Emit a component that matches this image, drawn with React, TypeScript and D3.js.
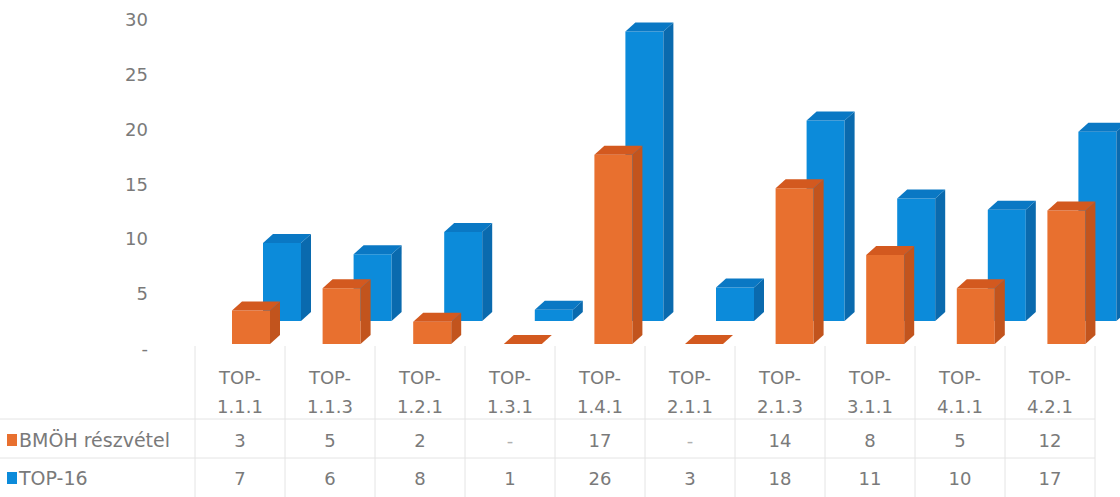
import * as d3 from "d3";

// chart data
const categories = [
  "TOP-1.1.1", "TOP-1.1.3", "TOP-1.2.1", "TOP-1.3.1", "TOP-1.4.1",
  "TOP-2.1.1", "TOP-2.1.3", "TOP-3.1.1", "TOP-4.1.1", "TOP-4.2.1",
];
const bmohValues = [3, 5, 2, 0, 17, 0, 14, 8, 5, 12];
const top16Values = [7, 6, 8, 1, 26, 3, 18, 11, 10, 17];
const seriesNames = ["BMÖH részvétel", "TOP-16"];
const yTicks = [0, 5, 10, 15, 20, 25, 30];

const W = 1120;
const H = 497;
const FONT = "'DejaVu Sans', 'Open Sans', sans-serif";
const TEXT = "#7a7a7a";

const orange = { front: "#E8702F", side: "#C2541D", top: "#D3591F" };
const blue = { front: "#0C8BDA", side: "#0A6AAE", top: "#0A78C4" };

// 3d-ish geometry
const DEPTH_X = 10;
const DEPTH_Y = -9;
const BAR_W = 38;
const FRONT_BASE = 344;
const BACK_BASE = 321;
const BACK_SHIFT = 31;

function Box({ x, base, h, c }: { x: number; base: number; h: number; c: typeof orange }) {
  const top = base - h;
  const front = `M${x},${base}L${x + BAR_W},${base}L${x + BAR_W},${top}L${x},${top}Z`;
  const side = `M${x + BAR_W},${base}L${x + BAR_W + DEPTH_X},${base + DEPTH_Y}L${x + BAR_W + DEPTH_X},${top + DEPTH_Y}L${x + BAR_W},${top}Z`;
  const lid = `M${x},${top}L${x + BAR_W},${top}L${x + BAR_W + DEPTH_X},${top + DEPTH_Y}L${x + DEPTH_X},${top + DEPTH_Y}Z`;
  return (
    <g>
      <path d={front} fill={c.front} />
      <path d={side} fill={c.side} />
      <path d={lid} fill={c.top} />
    </g>
  );
}

export default function App() {
  const yLabel = d3.scaleLinear().domain([0, 30]).range([349, 19.5]);
  const yBar = d3.scaleLinear().domain([0, 30]).range([0, 334]);

  // table columns
  const xCol = d3.scaleBand<string>().domain(categories).range([195, 1095]);
  // bar positions (slight perspective drift vs. the table)
  const xBar = d3.scaleBand<string>().domain(categories).range([232, 232 + 10 * 90.6]);

  const rowY = [447, 485];
  const colors = [orange.front, blue.front];
  const rows = [bmohValues, top16Values];

  return (
    <div style={{ position: "absolute", left: 0, top: 0 }}>
      <svg width={W} height={H} style={{ display: "block", background: "#fff" }}>
        {/* y axis labels */}
        {yTicks.map((t) => (
          <text
            key={t}
            x={148}
            y={yLabel(t)}
            dy="0.35em"
            textAnchor="end"
            fontFamily={FONT}
            fontSize={18}
            fill={TEXT}
          >
            {t === 0 ? "-" : t}
          </text>
        ))}

        {/* table grid */}
        <g stroke="#e4e4e4" strokeWidth={1}>
          {categories.map((c) => (
            <line key={c} x1={xCol(c)!} x2={xCol(c)!} y1={346} y2={H} />
          ))}
          <line x1={1095} x2={1095} y1={346} y2={H} />
          <line x1={0} x2={1095} y1={419} y2={419} />
          <line x1={0} x2={1095} y1={458} y2={458} />
        </g>

        {/* back row: TOP-16 */}
        {categories.map((c, i) => (
          <Box key={"b" + c} x={xBar(c)! + BACK_SHIFT} base={BACK_BASE} h={yBar(top16Values[i])} c={blue} />
        ))}
        {/* front row: BMÖH */}
        {categories.map((c, i) => (
          <Box key={"o" + c} x={xBar(c)!} base={FRONT_BASE} h={yBar(bmohValues[i])} c={orange} />
        ))}

        {/* category headers */}
        {categories.map((c) => {
          const cx = xCol(c)! + xCol.bandwidth() / 2;
          const [a, b] = [c.slice(0, 4), c.slice(4)];
          return (
            <text key={"h" + c} x={cx} textAnchor="middle" fontFamily={FONT} fontSize={18} fill={TEXT}>
              <tspan x={cx} y={384}>{a}</tspan>
              <tspan x={cx} y={413}>{b}</tspan>
            </text>
          );
        })}

        {/* data rows */}
        {rows.map((vals, r) => (
          <g key={"r" + r}>
            <rect x={7} y={rowY[r] - 13} width={10} height={12} fill={colors[r]} />
            <text x={19} y={rowY[r]} fontFamily={FONT} fontSize={19} fill={TEXT}>
              {seriesNames[r]}
            </text>
            {categories.map((c, i) => (
              <text
                key={c}
                x={xCol(c)! + xCol.bandwidth() / 2}
                y={rowY[r]}
                textAnchor="middle"
                fontFamily={FONT}
                fontSize={18}
                fill={vals[i] === 0 ? "#b0b0b0" : TEXT}
              >
                {vals[i] === 0 ? "-" : vals[i]}
              </text>
            ))}
          </g>
        ))}
      </svg>
    </div>
  );
}
